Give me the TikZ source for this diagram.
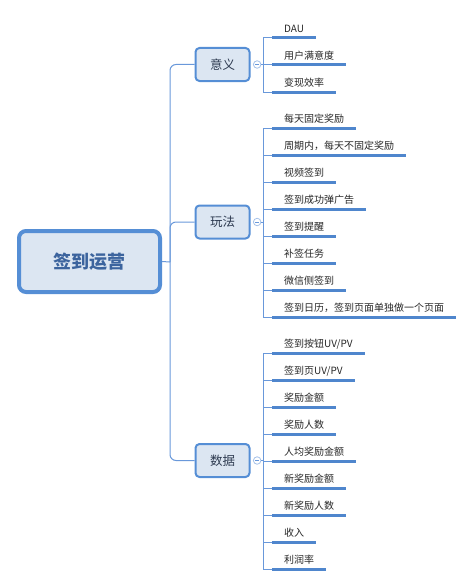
\documentclass[tikz,border=0pt]{standalone}
\usepackage{fontspec}
\setmainfont{Noto Sans CJK SC}
\usetikzlibrary{positioning}
\definecolor{boxfill}{RGB}{220,230,242}
\definecolor{boxline}{RGB}{85,142,213}
\definecolor{linkcol}{RGB}{105,152,218}
\definecolor{leafline}{RGB}{79,134,205}
\definecolor{roottxt}{RGB}{60,100,158}
\definecolor{branchtxt}{RGB}{45,58,80}
\begin{document}
\begin{tikzpicture}[x=1pt, y=-1pt,
  rootbox/.style={draw=boxline, fill=boxfill, line width=4pt, rounded corners=7pt,
    minimum width=141pt, minimum height=61pt, font=\fontsize{18}{20}\selectfont\bfseries, text=roottxt},
  branchbox/.style={draw=boxline, fill=boxfill, line width=2pt, rounded corners=4pt,
    minimum width=54pt, minimum height=33pt, font=\fontsize{12.5}{14}\selectfont, text=branchtxt},
  fold/.style={circle, draw=linkcol!60, fill=white, inner sep=0pt, minimum size=7.5pt, line width=0.8pt},
  leaf/.style={anchor=south west, inner xsep=12pt, inner ysep=4pt, text height=9pt,
    text depth=1.5pt, font=\fontsize{10}{12}\selectfont, text=black!85},
  link/.style={draw=linkcol, line width=1pt},
  underl/.style={draw=leafline, line width=3pt}]
\useasboundingbox (0,0) rectangle (474,586);

% root and main branches
\node[rootbox] (root) at (89.5,261.5) {签到运营};
\coordinate (spine) at (170,262);
\draw[link] (root.east) -- (spine);
\foreach \nm/\lbl/\yb in {yiyi/意义/64.5, wanfa/玩法/222, shuju/数据/460.5} {
  \node[branchbox] (\nm) at (222.5,\yb) {\lbl};
  \draw[link, rounded corners=6pt] (spine) |- (\nm.west);
  \node[fold, right=2.5pt of \nm] (\nm-c) {};
  \draw[linkcol, line width=0.8pt] ([xshift=-2pt]\nm-c.center) -- ([xshift=2pt]\nm-c.center);
}

% leaves
\foreach \txt [count=\i] in {DAU, 用户满意度, 变现效率}
  \node[leaf] (yiyi-\i) at (272,11+27*\i) {\txt};
\foreach \txt [count=\i] in {每天固定奖励, 周期内，每天不固定奖励, 视频签到, 签到成功弹广告,
    签到提醒, 补签任务, 微信侧签到, 签到日历，签到页面单独做一个页面}
  \node[leaf] (wanfa-\i) at (272,101+27*\i) {\txt};
\foreach \txt [count=\i] in {签到按钮UV/PV, 签到页UV/PV, 奖励金额, 奖励人数, 人均奖励金额,
    新奖励金额, 新奖励人数, 收入, 利润率}
  \node[leaf] (shuju-\i) at (272,326+27*\i) {\txt};

\foreach \nm/\n in {yiyi/3, wanfa/8, shuju/9} {
  \foreach \i in {1,...,\n} {
    \draw[link] (\nm-c.east) -- ++(2.5,0) |- (\nm-\i.south west);
    \draw[underl] (\nm-\i.south west) -- (\nm-\i.south east);
  }
}
\end{tikzpicture}
\end{document}
